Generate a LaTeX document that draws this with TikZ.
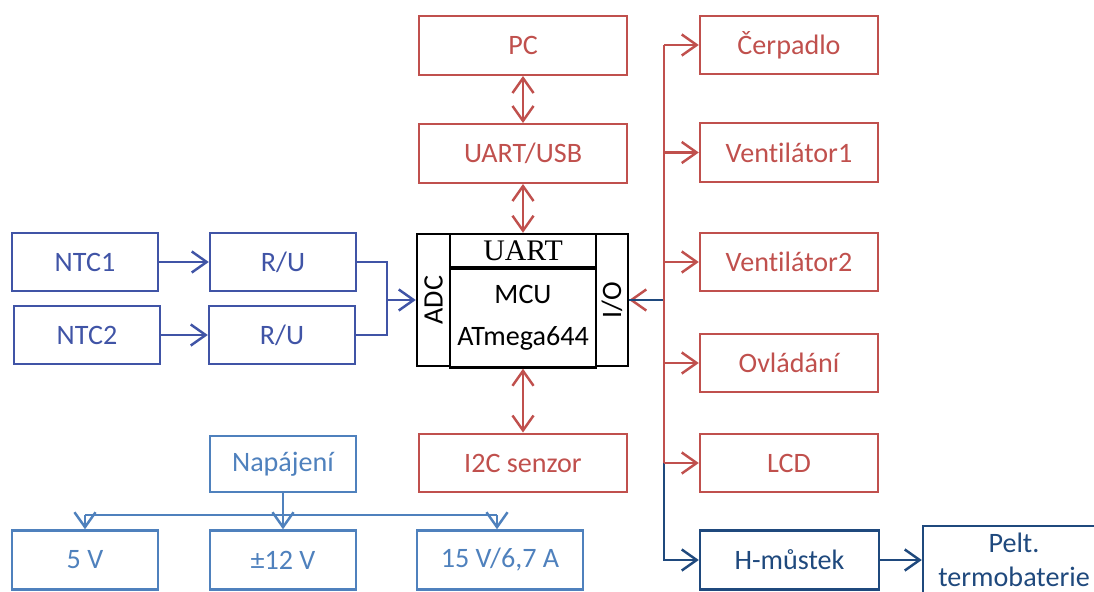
\documentclass[tikz,border=0pt]{standalone}
\usepackage{fontspec}
\setmainfont{Carlito}[Ligatures={NoCommon,NoRequired,NoContextual}]
\newfontfamily\serifUART{Liberation Serif}
\usetikzlibrary{arrows.meta}
\definecolor{cred}{RGB}{192,80,77}
\definecolor{cblue}{RGB}{64,84,166}
\definecolor{clblue}{RGB}{79,129,189}
\definecolor{cnavy}{RGB}{31,73,125}
\begin{document}
\begin{tikzpicture}[x=0.02cm,y=-0.02cm,
  >={Straight Barb[length=8.5pt,width=12pt]},
  box/.style={draw,line width=1.4pt,inner sep=0pt,font=\fontsize{16}{19}\selectfont,align=center},
  redbox/.style={box,draw=cred,text=cred,minimum height=1.17cm},
  bluebox/.style={box,draw=cblue,text=cblue,minimum width=2.92cm,minimum height=1.16cm},
  lbbox/.style={box,draw=clblue,text=clblue,minimum height=1.16cm},
  navybox/.style={box,draw=cnavy,text=cnavy},
  blkbox/.style={box,draw=black,text=black},
  redline/.style={draw=cred,line width=1.4pt},
  blueline/.style={draw=cblue,line width=1.4pt},
  lbline/.style={draw=clblue,line width=1.4pt},
  navyline/.style={draw=cnavy,line width=1.4pt}]
\useasboundingbox (0,0) rectangle (1094,591);
% top centre column
\node[redbox,minimum width=4.16cm] (pc) at (523,45.5) {PC};
\node[redbox,minimum width=4.16cm] (usb) at (523,153.5) {UART/USB};
\node[redbox,minimum width=4.16cm] (i2c) at (523,463) {I2C senzor};
% MCU
\node[blkbox,minimum width=0.66cm,minimum height=2.64cm] (adc) at (433.5,300) {\rotatebox{90}{ADC}};
\node[blkbox,minimum width=0.64cm,minimum height=2.64cm] (io) at (612,300) {\rotatebox{90}{I/O}};
\node[blkbox,minimum width=2.92cm,minimum height=0.66cm,font=\serifUART\fontsize{17}{19}\selectfont] (ubar) at (523,250.5) {UART};
\node[blkbox,minimum width=2.92cm,minimum height=1.98cm] (mcu) at (523,318) {MCU\\[5pt]ATmega644};
% right column
\node[redbox,minimum width=3.56cm] (cerp) at (789,45) {Čerpadlo};
\node[redbox,minimum width=3.56cm] (v1) at (789,152.5) {Ventilátor1};
\node[redbox,minimum width=3.56cm] (v2) at (789,262) {Ventilátor2};
\node[redbox,minimum width=3.56cm] (ovl) at (789,363) {Ovládání};
\node[redbox,minimum width=3.56cm] (lcd) at (789,463) {LCD};
\node[navybox,minimum width=3.58cm,minimum height=1.18cm] (hm) at (789.5,560) {H-můstek};
\node[navybox,minimum width=3.64cm,minimum height=1.36cm] (pelt) at (1014,560) {Pelt.\\termobaterie};
% left
\node[bluebox] (ntc1) at (85,262) {NTC1};
\node[bluebox] (ru1) at (283,262) {R/U};
\node[bluebox] (ntc2) at (87,335) {NTC2};
\node[bluebox] (ru2) at (282,335) {R/U};
% power
\node[lbbox,minimum width=2.92cm,minimum height=1.12cm] (nap) at (283,464) {Napájení};
\node[lbbox,minimum width=2.92cm,minimum height=1.18cm] (v5) at (85,560) {5 V};
\node[lbbox,minimum width=2.92cm,minimum height=1.18cm] (v12) at (283,560) {±12 V};
\node[lbbox,minimum width=3.32cm,minimum height=1.18cm] (v15) at (500,560) {15 V/6,7 A};
% coordinates
\coordinate (jadc) at (387,300);
\coordinate (bus) at (664,300);
\coordinate (jnap) at (283,515);
\coordinate (jl) at (85,515);
\coordinate (jr) at (497,515);
% centre arrows
\draw[redline,<->] (pc.south) -- (usb.north);
\draw[redline,<->] (usb.south) -- (ubar.north);
\draw[redline,<->] (mcu.south) -- (i2c.north);
% NTC
\draw[blueline,->] (ntc1.east) -- (ru1.west);
\draw[blueline,->] (ntc2.east) -- (ru2.west);
\draw[blueline] (ru1.east) -| (jadc) |- (ru2.east);
\draw[blueline,->] (jadc) -- (adc.west);
% power
\draw[lbline] (nap.south) -- (jnap);
\draw[lbline] (jl) -- (jr);
\draw[lbline,->] (jl) -- (v5.north);
\draw[lbline,->] (jnap) -- (v12.north);
\draw[lbline,->] (jr) -- (jr |- v15.north);
% right bus
\draw[redline,->] (bus) -- (io.east);
\draw[navyline,->] (io.east) -- (bus) -- (bus |- hm.west) -- (hm.west);
\draw[redline] (bus |- cerp.west) -- (bus |- lcd.west);
\draw[redline,->] (bus |- cerp.west) -- (cerp.west);
\draw[redline,->] (bus |- v1.west) -- (v1.west);
\draw[redline,->] (bus |- v2.west) -- (v2.west);
\draw[redline,->] (bus |- ovl.west) -- (ovl.west);
\draw[redline,->] (bus |- lcd.west) -- (lcd.west);
\draw[navyline,->] (hm.east) -- (pelt.west |- hm.east);
\end{tikzpicture}
\end{document}
